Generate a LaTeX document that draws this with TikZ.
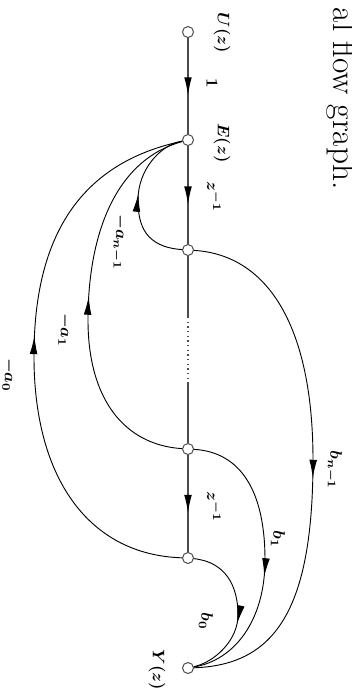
\documentclass[tikz,border=0pt]{standalone}
\usetikzlibrary{arrows.meta,decorations.markings}
\begin{document}
\begin{tikzpicture}[x=0.6pt,y=-0.6pt,
  sig/.style={circle,draw=black!70,fill=white,line width=0.6pt,minimum size=6.6pt,inner sep=0pt},
  mainline/.style={draw=black!70,line width=0.8pt},
  branch/.style={draw=black,line width=0.55pt},
  tipat/.style={postaction={decorate,decoration={markings,mark=at position #1 with {\arrow[black]{Latex[length=11pt,width=4.6pt]}}}}},
  lbl/.style={rotate=-90,font=\boldmath,inner sep=1pt}]
\useasboundingbox (0,0) rectangle (351,690);
% title fragment
\node[rotate=-90,anchor=base east,font=\fontsize{20}{24}\selectfont,inner sep=0pt] (title) at (333,190) {al flow graph.};
% signal nodes
\coordinate (U0) at (188,32);
\coordinate (E0) at (188,140);
\coordinate (n10) at (188,250);
\coordinate (n20) at (188,449);
\coordinate (n30) at (188,558);
\coordinate (Y0) at (188,668);
\node[sig] (U) at (U0) {};
\node[sig] (E) at (E0) {};
\node[sig] (n1) at (n10) {};
\node[sig] (n2) at (n20) {};
\node[sig] (n3) at (n30) {};
\node[sig] (Y) at (Y0) {};
\coordinate (d1) at (188,317);
\coordinate (d2) at (188,383);
% main path
\draw[mainline,tipat=0.6] (U) -- (E);
\draw[mainline,tipat=0.6] (E) -- (n1);
\draw[mainline] (n1) -- (d1);
\draw[mainline,dotted] (d1) -- (d2);
\draw[mainline] (d2) -- (n2);
\draw[mainline,tipat=0.6] (n2) -- (n3);
% feedback branches
\draw[branch,tipat=0.53] (n1) .. controls (145,247) and (138,225) .. (138,200) .. controls (138,170) and (160,145) .. (E);
\draw[branch,tipat=0.51] (n2) .. controls (125,445) and (88,400) .. (88,320) .. controls (88,235) and (115,160) .. (E);
\draw[branch,tipat=0.53] (n3) .. controls (90,555) and (35,480) .. (34,360) .. controls (33,250) and (70,165) .. (E);
% feedforward branches
\draw[branch,tipat=0.53] (n1) .. controls (270,255) and (313,330) .. (313,460) .. controls (313,610) and (275,665) .. (Y);
\draw[branch,tipat=0.57] (n2) .. controls (240,452) and (265,490) .. (265,560) .. controls (265,620) and (235,660) .. (Y);
\draw[branch,tipat=0.58] (n3) .. controls (225,562) and (238,585) .. (238,615) .. controls (238,640) and (215,662) .. (Y);
% labels
\node[lbl] (lU) at (222,33) {$U(z)$};
\node[lbl] (l1) at (212,83) {$1$};
\node[lbl] (lE) at (222,143) {$E(z)$};
\node[lbl] (lz1) at (214,197) {$z^{-1}$};
\node[lbl] (lz2) at (214,507) {$z^{-1}$};
\node[lbl] (lan) at (119,242) {$-a_{n-1}$};
\node[lbl] (la1) at (65,330) {$-a_1$};
\node[lbl] (la0) at (9,375) {$-a_0$};
\node[lbl] (lbn) at (334,470) {$b_{n-1}$};
\node[lbl] (lb1) at (278,539) {$b_1$};
\node[lbl] (lb0) at (206,621) {$b_0$};
\node[lbl] (lY) at (157,670) {$Y(z)$};
\end{tikzpicture}
\end{document}
